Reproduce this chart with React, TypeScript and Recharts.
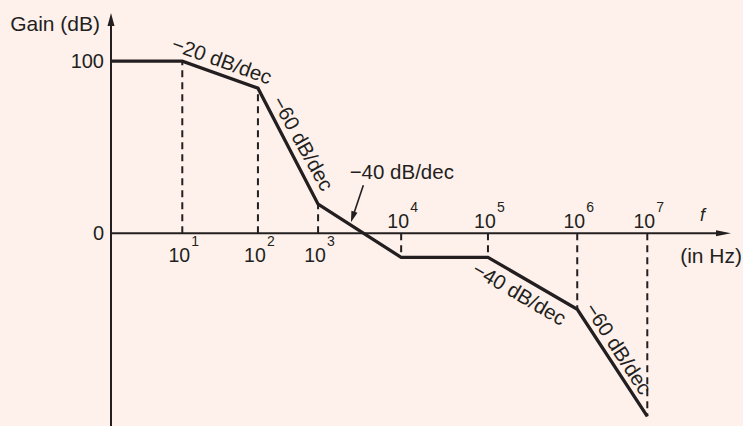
import React from 'react';
import { ComposedChart, Line, XAxis, YAxis, ReferenceLine, ReferenceDot } from 'recharts';

const INK = '#231F20';
const BG = '#FEF1EC';
const FONT = '"Liberation Sans", Arial, Helvetica, sans-serif';

// Schematic horizontal position of each corner (0 = origin, 100 = tip of the f axis)
const cornerPos = [0, 11.5, 23.7, 33.4, 46.8, 60.8, 75.2, 86.5];
const cornerGain = [100, 100, 84.3, 16.9, -14, -14, -44.2, -106.4];

// Decade markers 10^1 .. 10^7
const decadeExp = [1, 2, 3, 4, 5, 6, 7];
const decadePos = [11.5, 23.7, 33.4, 46.8, 60.8, 75.2, 86.5];
const decadeGain = [100, 84.3, 16.9, -14, -14, -44.2, -106.4];
const decadeBelow = [true, true, true, false, false, false, false];

const yTicks = [0, 100];

// Slope annotations
const slopeText = ['\u221220 dB/dec', '\u221260 dB/dec', '\u221240 dB/dec', '\u221240 dB/dec', '\u221260 dB/dec'];
const slopeX = [17.9, 31.0, 46.9, 65.9, 81.9];
const slopeY = [100.6, 52.3, 36.0, -34.9, -66.9];
const slopeAngle = [19.5, 61, 0, 30.4, 57];

// Pointer arrow for the horizontal "-40 dB/dec" label
const pointerFrom = { x: 40.7, y: 27.9 };
const pointerTo = { x: 38.7, y: 6.4 };

const curveData = cornerPos.map((x, i) => ({ x, gain: cornerGain[i] }));

const VAxisShape = (p: any) => {
  const x = p.x1;
  const top = Math.min(p.y1, p.y2);
  const bottom = Math.max(p.y1, p.y2);
  return (
    <g>
      <line x1={x} y1={bottom} x2={x} y2={top + 8} stroke={INK} strokeWidth={2} />
      <polygon points={`${x},${top} ${x - 3.5},${top + 13} ${x + 3.5},${top + 13}`} fill={INK} />
    </g>
  );
};

const HAxisShape = (p: any) => {
  const y = p.y1;
  const left = Math.min(p.x1, p.x2);
  const right = Math.max(p.x1, p.x2);
  return (
    <g>
      <line x1={left} y1={y} x2={right - 8} y2={y} stroke={INK} strokeWidth={2} />
      <polygon points={`${right},${y} ${right - 15},${y - 3} ${right - 15},${y + 3}`} fill={INK} />
    </g>
  );
};

const PointerShape = (p: any) => {
  const { x1, y1, x2, y2 } = p;
  const dx = x2 - x1;
  const dy = y2 - y1;
  const len = Math.sqrt(dx * dx + dy * dy);
  const ux = dx / len;
  const uy = dy / len;
  const hl = 11;
  const hw = 3.2;
  const bx = x2 - ux * hl;
  const by = y2 - uy * hl;
  return (
    <g>
      <line x1={x1} y1={y1} x2={bx + ux * 2} y2={by + uy * 2} stroke={INK} strokeWidth={1.6} />
      <polygon
        points={`${x2},${y2} ${bx - uy * hw},${by + ux * hw} ${bx + uy * hw},${by - ux * hw}`}
        fill={INK}
      />
    </g>
  );
};

const decadeLabel = (exp: number, below: boolean) => (p: any) => {
  const baseY = p.cy + (below ? 29 : -5);
  return (
    <g>
      <text x={p.cx - 3} y={baseY} textAnchor="middle" fill={INK} fontFamily={FONT} fontSize={19.5}>
        10
      </text>
      <text x={p.cx + 9} y={baseY - 16} textAnchor="start" fill={INK} fontFamily={FONT} fontSize={14}>
        {exp}
      </text>
    </g>
  );
};

const slopeLabel = (text: string, angle: number) => (p: any) => (
  <text
    x={p.cx}
    y={p.cy}
    textAnchor="middle"
    dominantBaseline="central"
    transform={`rotate(${angle} ${p.cx} ${p.cy})`}
    fill={INK}
    fontFamily={FONT}
    fontSize={20.5}
  >
    {text}
  </text>
);

const gainTitle = (p: any) => (
  <text x={p.cx - 11} y={p.cy + 18} textAnchor="end" fill={INK} fontFamily={FONT} fontSize={21}>
    Gain (dB)
  </text>
);

const fTitle = (p: any) => (
  <g>
    <text x={p.cx - 31} y={p.cy - 12} textAnchor="start" fill={INK} fontFamily={FONT} fontSize={18} fontStyle="italic">
      f
    </text>
    <text x={p.cx + 11} y={p.cy + 30} textAnchor="end" fill={INK} fontFamily={FONT} fontSize={21}>
      (in Hz)
    </text>
  </g>
);

export default function App() {
  return (
    <div style={{ position: 'absolute', left: 0, top: 0, width: 743, height: 426, background: BG }}>
      <ComposedChart width={743} height={426} data={curveData} margin={{ top: 13, right: 12, bottom: 0, left: 0 }}>
        <XAxis type="number" dataKey="x" domain={[0, 100]} hide />
        <YAxis
          type="number"
          domain={[-112, 128]}
          ticks={yTicks}
          interval={0}
          axisLine={false}
          tickLine={false}
          tickSize={0}
          tickMargin={7}
          width={111}
          tick={{ fill: INK, fontSize: 20, fontFamily: FONT }}
        />
        {decadePos.map((x, i) => (
          <ReferenceLine
            key={`d${i}`}
            segment={[{ x, y: 0 }, { x, y: decadeGain[i] }]}
            stroke={INK}
            strokeWidth={2}
            strokeDasharray="7 5"
          />
        ))}
        <ReferenceLine x={0} shape={VAxisShape} />
        <ReferenceLine y={0} shape={HAxisShape} />
        <Line
          dataKey="gain"
          type="linear"
          stroke={INK}
          strokeWidth={3.3}
          dot={false}
          activeDot={false}
          isAnimationActive={false}
        />
        <ReferenceLine segment={[pointerFrom, pointerTo]} shape={PointerShape} />
        {decadePos.map((x, i) => (
          <ReferenceDot
            key={`t${i}`}
            x={x}
            y={0}
            r={0}
            ifOverflow="visible"
            shape={decadeLabel(decadeExp[i], decadeBelow[i])}
          />
        ))}
        {slopeText.map((t, i) => (
          <ReferenceDot
            key={`s${i}`}
            x={slopeX[i]}
            y={slopeY[i]}
            r={0}
            ifOverflow="visible"
            shape={slopeLabel(t, slopeAngle[i])}
          />
        ))}
        <ReferenceDot x={0} y={128} r={0} ifOverflow="visible" shape={gainTitle} />
        <ReferenceDot x={100} y={0} r={0} ifOverflow="visible" shape={fTitle} />
      </ComposedChart>
    </div>
  );
}
